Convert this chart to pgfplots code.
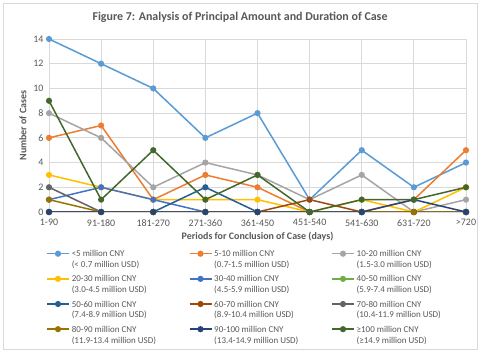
\documentclass[border=0pt]{standalone}
\usepackage{fontspec}
\setmainfont{Carlito}
\usepackage{pgfplots}
\pgfplotsset{compat=1.18}
\definecolor{txt}{HTML}{595959}
\definecolor{grd}{HTML}{D9D9D9}
\definecolor{c1}{HTML}{5B9BD5}
\definecolor{c2}{HTML}{ED7D31}
\definecolor{c3}{HTML}{A5A5A5}
\definecolor{c4}{HTML}{FFC000}
\definecolor{c5}{HTML}{4472C4}
\definecolor{c6}{HTML}{70AD47}
\definecolor{c7}{HTML}{255E91}
\definecolor{c8}{HTML}{9E480E}
\definecolor{c9}{HTML}{636363}
\definecolor{c10}{HTML}{997300}
\definecolor{c11}{HTML}{264478}
\definecolor{c12}{HTML}{43682B}
\newcommand{\LE}[2]{\begin{tabular}[t]{@{}p{110bp}@{}}#1\\#2\end{tabular}}
\begin{document}
\begin{tikzpicture}
\path[fill=white] (0,0) rectangle (480bp,352bp);
\draw[color=grd, line width=0.75bp] (3bp,3bp) rectangle (477bp,349bp);
\node[font=\bfseries\fontsize{12}{14}\selectfont, text=txt] at (240bp,335bp) {Figure 7: Analysis of Principal Amount and Duration of Case};
\begin{axis}[
  at={(49bp,140bp)}, anchor=south west,
  scale only axis, width=417bp, height=173bp,
  xmin=0, xmax=8, ymin=0, ymax=14,
  xtick={0,...,8},
  xticklabels={1-90,91-180,181-270,271-360,361-450,451-540,541-630,631-720,>720},
  ytick={0,2,...,14},
  grid=major, major grid style={draw=grd, line width=0.75bp},
  axis line style={draw=none},
  major tick length=0pt,
  tick label style={font=\fontsize{10}{11}\selectfont, text=txt},
  xticklabel style={yshift=-4bp},
  yticklabel style={xshift=-2bp},
  /pgf/number format/assume math mode=true,
  xlabel={Periods for Conclusion of Case (days)},
  ylabel={Number of Cases},
  label style={font=\bfseries\fontsize{10}{11}\selectfont, text=txt},
  xlabel style={yshift=1bp},
  legend columns=3,
  legend style={draw=none, at={(0.5,-0.19)}, anchor=north,
    font=\fontsize{9}{11}\selectfont, text=txt,
    cells={anchor=base west, inner xsep=1bp, inner ysep=1bp},
    /tikz/column sep=0pt,
    /tikz/every even column/.style={column sep=5bp},
    row sep=12bp},
  legend image code/.code={\draw[mark repeat=2,mark phase=2] plot coordinates {(0bp,3bp) (11bp,3bp) (22bp,3bp)};},
  every axis plot/.append style={line width=1.5bp, mark=*, mark size=2.3bp},
]
\addplot[color=c1] coordinates {(0,14)(1,12)(2,10)(3,6)(4,8)(5,1)(6,5)(7,2)(8,4)};
\addlegendentry{\LE{<5 million CNY}{(< 0.7 million USD)}}
\addplot[color=c2] coordinates {(0,6)(1,7)(2,1)(3,3)(4,2)(5,0)(6,0)(7,1)(8,5)};
\addlegendentry{\LE{5-10 million CNY}{(0.7-1.5 million USD)}}
\addplot[color=c3] coordinates {(0,8)(1,6)(2,2)(3,4)(4,3)(5,1)(6,3)(7,0)(8,1)};
\addlegendentry{\LE{10-20 million CNY}{(1.5-3.0 million USD)}}
\addplot[color=c4] coordinates {(0,3)(1,2)(2,1)(3,1)(4,1)(5,0)(6,1)(7,0)(8,2)};
\addlegendentry{\LE{20-30 million CNY}{(3.0-4.5 million USD)}}
\addplot[color=c5] coordinates {(0,1)(1,2)(2,1)(3,0)(4,0)(5,0)(6,0)(7,0)(8,0)};
\addlegendentry{\LE{30-40 million CNY}{(4.5-5.9 million USD)}}
\addplot[color=c6] coordinates {(0,0)(1,0)(2,0)(3,0)(4,0)(5,0)(6,0)(7,0)(8,0)};
\addlegendentry{\LE{40-50 million CNY}{(5.9-7.4 million USD)}}
\addplot[color=c7] coordinates {(0,0)(1,0)(2,0)(3,2)(4,0)(5,0)(6,0)(7,0)(8,0)};
\addlegendentry{\LE{50-60 million CNY}{(7.4-8.9 million USD)}}
\addplot[color=c8] coordinates {(0,0)(1,0)(2,0)(3,0)(4,0)(5,1)(6,0)(7,0)(8,0)};
\addlegendentry{\LE{60-70 million CNY}{(8.9-10.4 million USD)}}
\addplot[color=c9] coordinates {(0,2)(1,0)(2,0)(3,0)(4,0)(5,0)(6,0)(7,0)(8,0)};
\addlegendentry{\LE{70-80 million CNY}{(10.4-11.9 million USD)}}
\addplot[color=c10] coordinates {(0,1)(1,0)(2,0)(3,0)(4,0)(5,0)(6,0)(7,0)(8,0)};
\addlegendentry{\LE{80-90 million CNY}{(11.9-13.4 million USD)}}
\addplot[color=c11] coordinates {(0,0)(1,0)(2,0)(3,0)(4,0)(5,0)(6,0)(7,1)(8,0)};
\addlegendentry{\LE{90-100 million CNY}{(13.4-14.9 million USD)}}
\addplot[color=c12] coordinates {(0,9)(1,1)(2,5)(3,1)(4,3)(5,0)(6,1)(7,1)(8,2)};
\addlegendentry{\LE{≥100 million CNY}{(≥14.9 million USD)}}
\end{axis}
\end{tikzpicture}
\end{document}
